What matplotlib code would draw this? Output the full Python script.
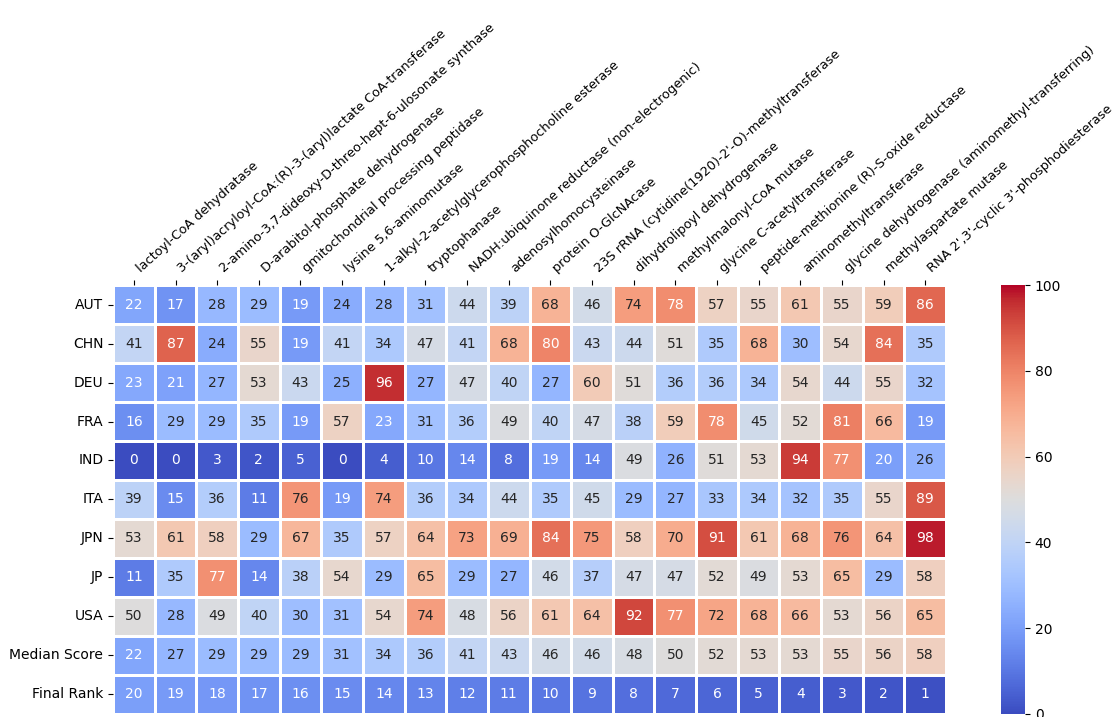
#!/usr/bin/env python3
"""Enzyme score heatmap by country, with median score and final rank rows."""
import matplotlib

matplotlib.use("Agg")
import matplotlib.pyplot as plt
import numpy as np
import pandas as pd
import seaborn as sns

enzymes = [
    "lactoyl-CoA dehydratase",
    "3-(aryl)acryloyl-CoA:(R)-3-(aryl)lactate CoA-transferase",
    "2-amino-3,7-dideoxy-D-threo-hept-6-ulosonate synthase",
    "D-arabitol-phosphate dehydrogenase",
    "gmitochondrial processing peptidase",
    "lysine 5,6-aminomutase",
    "1-alkyl-2-acetylglycerophosphocholine esterase",
    "tryptophanase",
    "NADH:ubiquinone reductase (non-electrogenic)",
    "adenosylhomocysteinase",
    "protein O-GlcNAcase",
    "23S rRNA (cytidine(1920)-2'-O)-methyltransferase",
    "dihydrolipoyl dehydrogenase",
    "methylmalonyl-CoA mutase",
    "glycine C-acetyltransferase",
    "peptide-methionine (R)-S-oxide reductase",
    "aminomethyltransferase",
    "glycine dehydrogenase (aminomethyl-transferring)",
    "methylaspartate mutase",
    "RNA 2',3'-cyclic 3'-phosphodiesterase",
]

rows = ["AUT", "CHN", "DEU", "FRA", "IND", "ITA", "JPN", "JP", "USA",
        "Median Score", "Final Rank"]

aut = [22, 17, 28, 29, 19, 24, 28, 31, 44, 39, 68, 46, 74, 78, 57, 55, 61, 55, 59, 86]
chn = [41, 87, 24, 55, 19, 41, 34, 47, 41, 68, 80, 43, 44, 51, 35, 68, 30, 54, 84, 35]
deu = [23, 21, 27, 53, 43, 25, 96, 27, 47, 40, 27, 60, 51, 36, 36, 34, 54, 44, 55, 32]
fra = [16, 29, 29, 35, 19, 57, 23, 31, 36, 49, 40, 47, 38, 59, 78, 45, 52, 81, 66, 19]
ind = [0, 0, 3, 2, 5, 0, 4, 10, 14, 8, 19, 14, 49, 26, 51, 53, 94, 77, 20, 26]
ita = [39, 15, 36, 11, 76, 19, 74, 36, 34, 44, 35, 45, 29, 27, 33, 34, 32, 35, 55, 89]
jpn = [53, 61, 58, 29, 67, 35, 57, 64, 73, 69, 84, 75, 58, 70, 91, 61, 68, 76, 64, 98]
jp = [11, 35, 77, 14, 38, 54, 29, 65, 29, 27, 46, 37, 47, 47, 52, 49, 53, 65, 29, 58]
usa = [50, 28, 49, 40, 30, 31, 54, 74, 48, 56, 61, 64, 92, 77, 72, 68, 66, 53, 56, 65]
median_score = [22, 27, 29, 29, 29, 31, 34, 36, 41, 43, 46, 46, 48, 50, 52, 53, 53, 55, 56, 58]
final_rank = [20, 19, 18, 17, 16, 15, 14, 13, 12, 11, 10, 9, 8, 7, 6, 5, 4, 3, 2, 1]


def build_frame():
    data = np.array([aut, chn, deu, fra, ind, ita, jpn, jp, usa,
                     median_score, final_rank])
    return pd.DataFrame(data, index=rows, columns=enzymes)


def plot_heatmap(df, outpath):
    fig = plt.figure(figsize=(11.16, 7.17), dpi=100)
    ax = fig.add_axes([0.1013, 0.0042, 0.7464, 0.5983])
    cax = fig.add_axes([0.8970, 0.0042, 0.0215, 0.5983])

    sns.heatmap(
        df,
        ax=ax,
        cbar_ax=cax,
        cmap="coolwarm",
        vmin=0,
        vmax=100,
        annot=True,
        fmt="d",
        linewidths=0.8,
        linecolor="white",
        annot_kws={"fontsize": 10},
    )

    ax.xaxis.tick_top()
    ax.set_xticklabels(ax.get_xticklabels(), rotation=42, ha="left", fontsize=9.3)
    ax.set_yticklabels(ax.get_yticklabels(), rotation=0, fontsize=10)
    ax.set_xlabel("")
    ax.set_ylabel("")
    cax.set_yticks([0, 20, 40, 60, 80, 100])
    cax.tick_params(labelsize=10)

    fig.savefig(outpath, dpi=100)
    plt.close(fig)


def main():
    df = build_frame()
    plot_heatmap(df, "out.png")


if __name__ == "__main__":
    main()
